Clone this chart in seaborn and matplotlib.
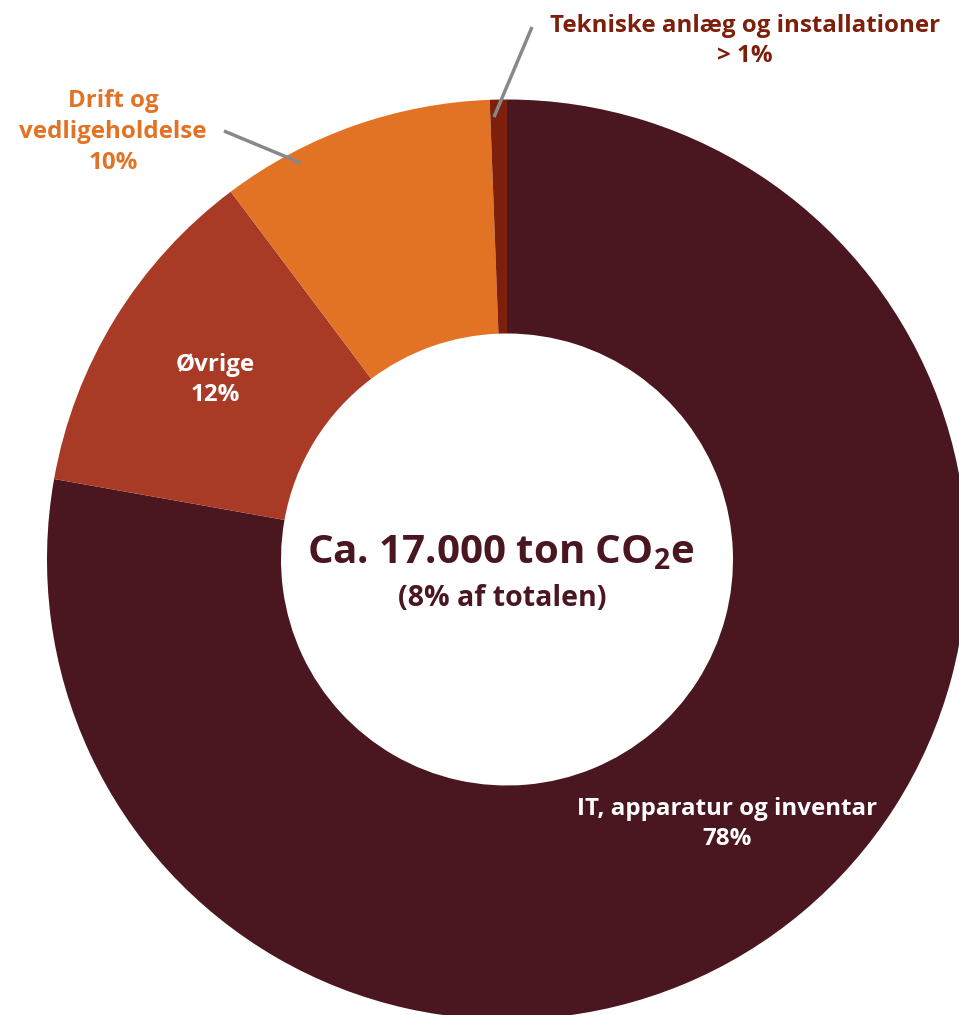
import matplotlib
matplotlib.use("Agg")
import matplotlib.pyplot as plt
import seaborn as sns

categories = ["IT, apparatur og inventar", "Øvrige", "Drift og\nvedligeholdelse", "Tekniske anlæg og installationer"]
values = [77.8, 11.95, 9.65, 0.6]
pct_labels = ["78%", "12%", "10%", "> 1%"]
colors = ["#4A1620", "#A93A26", "#E27325", "#7E1F0B"]

sns.set_theme(style="white")
plt.rcParams['font.family'] = ['Open Sans', 'DejaVu Sans']
plt.rcParams['mathtext.fontset'] = 'custom'
plt.rcParams['mathtext.rm'] = 'Open Sans:bold'
plt.rcParams['mathtext.it'] = 'Open Sans:bold'
plt.rcParams['mathtext.bf'] = 'Open Sans:bold'

W, H = 959, 1015
cx, cy, R = 507, 559.5, 460
fig = plt.figure(figsize=(W / 100, H / 100), dpi=100)
ax = fig.add_axes([0, 0, 1, 1])

ax.pie(values, colors=colors, startangle=90, counterclock=False, radius=1.0,
       wedgeprops=dict(width=1 - 226 / 460, linewidth=0))
ax.set_aspect("auto")
ax.set_xlim(-cx / R, (W - cx) / R)
ax.set_ylim(-(H - cy) / R, cy / R)
ax.axis("off")

def px(x, y):
    return ((x - cx) / R, (cy - y) / R)

fs = 17.4
ls = 1.38
# slice labels
ax.text(*px(727, 824), f"{categories[0]}\n{pct_labels[0]}", ha="center", va="center",
        color="white", fontsize=fs, fontweight="bold", linespacing=ls)
ax.text(*px(215, 380), f"{categories[1]}\n{pct_labels[1]}", ha="center", va="center",
        color="white", fontsize=fs, fontweight="bold", linespacing=ls)
ax.text(*px(113, 132), f"{categories[2]}\n{pct_labels[2]}", ha="center", va="center",
        color="#E27325", fontsize=fs, fontweight="bold", linespacing=ls)
ax.text(*px(745, 41), f"{categories[3]}\n{pct_labels[3]}", ha="center", va="center",
        color="#7E1F0B", fontsize=fs, fontweight="bold", linespacing=ls)

# leader lines
x1, y1 = px(224, 131); x2, y2 = px(301, 163)
ax.plot([x1, x2], [y1, y2], color="#888888", lw=2.5, solid_capstyle="butt")
x1, y1 = px(532, 27); x2, y2 = px(494, 117)
ax.plot([x1, x2], [y1, y2], color="#888888", lw=2.5, solid_capstyle="butt")

# center text
ax.text(*px(501, 553), r"Ca. 17.000 ton CO$_{2}$e", ha="center", va="center",
        color="#4A1620", fontsize=29, fontweight="bold")
ax.text(*px(502, 598), "(8% af totalen)", ha="center", va="center",
        color="#4A1620", fontsize=20.5, fontweight="bold")

fig.savefig("out.png", dpi=100)
